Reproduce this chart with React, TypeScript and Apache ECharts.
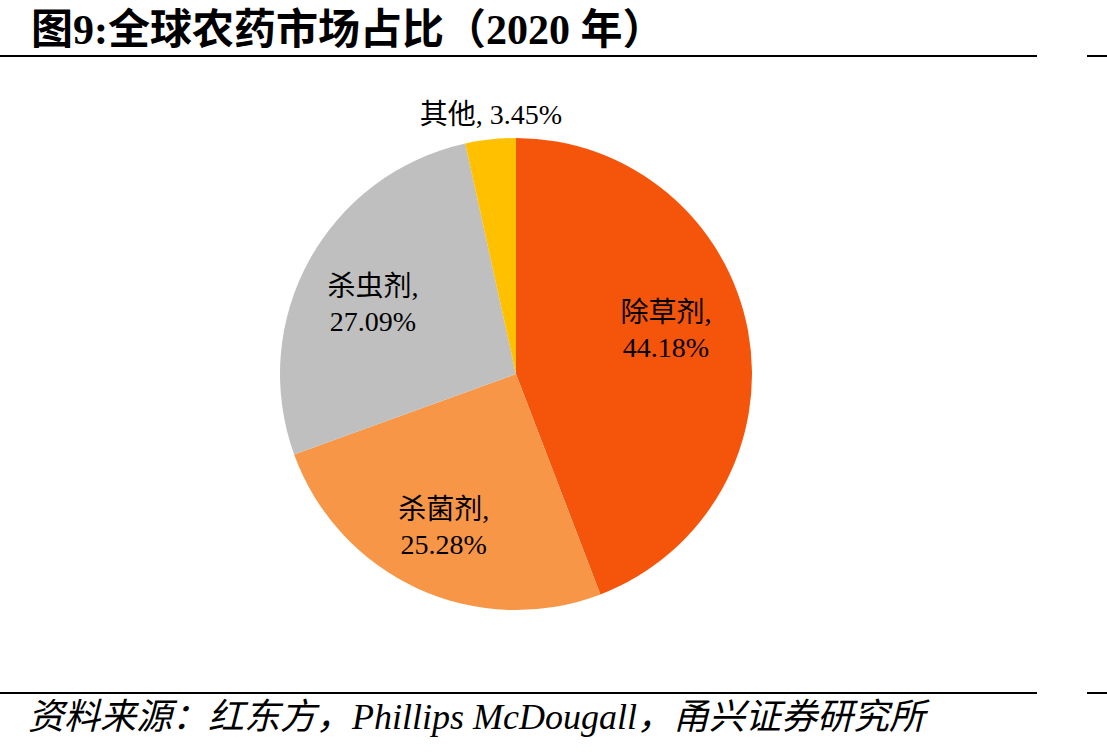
import React, { useEffect, useRef } from "react";
import * as echarts from "echarts";

const titleText = "图9:全球农药市场占比（2020 年）";
const sourceText = "资料来源：红东方，Phillips McDougall，甬兴证券研究所";
const categories = ["除草剂", "杀菌剂", "杀虫剂", "其他"];
const shares = [44.18, 25.28, 27.09, 3.45];
const colors = ["#F5540B", "#F79646", "#BFBFBF", "#FFC000"];
const labelOffsets: [number, number][] = [
  [31, -22],
  [-22, 43],
  [-37, -12],
  [-12, -139],
];

const FONT = "'Liberation Serif', 'Times New Roman', 'Noto Sans CJK SC', serif";

export default function App() {
  const ref = useRef<HTMLDivElement>(null);
  useEffect(() => {
    document.body.style.margin = "0";
    const chart = echarts.init(ref.current!, null, { renderer: "svg" });
    chart.setOption({
      animation: false,
      backgroundColor: "#ffffff",
      title: {
        text: titleText,
        left: 26,
        top: 4,
        textStyle: {
          fontFamily: FONT,
          fontWeight: "bold",
          fontSize: 42,
          color: "#000",
        },
      },
      graphic: [
        { type: "line", shape: { x1: 0, y1: 56, x2: 1037, y2: 56 }, style: { stroke: "#000", lineWidth: 2 } },
        { type: "line", shape: { x1: 1087, y1: 56, x2: 1107, y2: 56 }, style: { stroke: "#000", lineWidth: 2 } },
        { type: "line", shape: { x1: 0, y1: 693, x2: 1037, y2: 693 }, style: { stroke: "#000", lineWidth: 2 } },
        { type: "line", shape: { x1: 1087, y1: 693, x2: 1107, y2: 693 }, style: { stroke: "#000", lineWidth: 2 } },
        {
          type: "text",
          left: 28,
          top: 699,
          style: {
            text: sourceText,
            fontFamily: FONT,
            fontStyle: "italic",
            fontSize: 36,
            fill: "#000",
          },
        },
      ],
      series: [
        {
          type: "pie",
          center: [516, 374],
          radius: [0, 236],
          startAngle: 90,
          clockwise: true,
          silent: true,
          label: {
            show: true,
            position: "inside",
            fontFamily: FONT,
            fontSize: 28,
            lineHeight: 35,
            color: "#000",
            formatter: (p: any) =>
              p.dataIndex === 3
                ? `${p.name}, ${p.value.toFixed(2)}%`
                : `${p.name},\n${p.value.toFixed(2)}%`,
          },
          labelLine: { show: false },
          data: categories.map((name, i) => ({
            name,
            value: shares[i],
            itemStyle: { color: colors[i] },
            label: { offset: labelOffsets[i] },
          })),
        },
      ],
    });
    return () => chart.dispose();
  }, []);
  return <div ref={ref} style={{ width: 1107, height: 754 }} />;
}
